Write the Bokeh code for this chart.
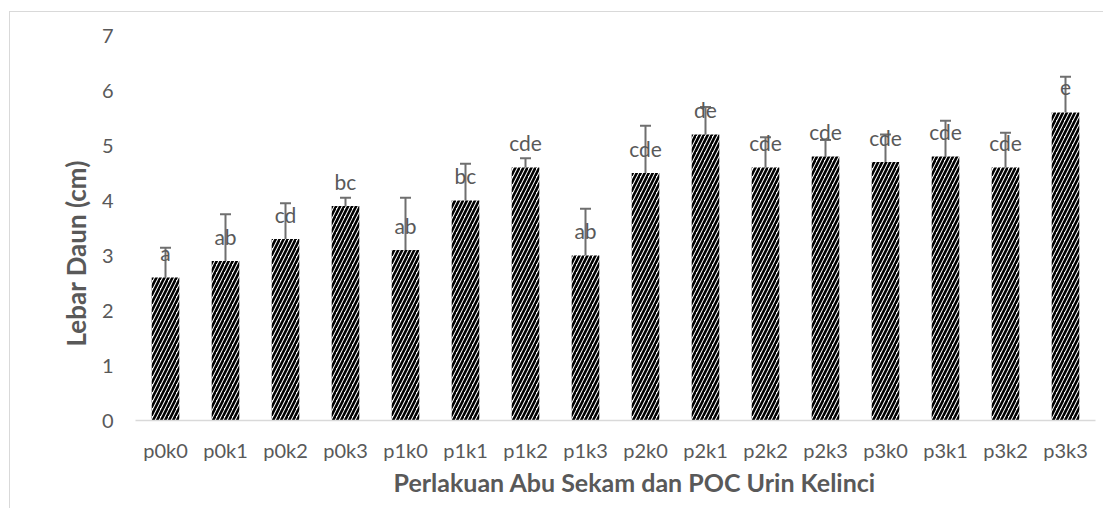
from bokeh.plotting import figure
from bokeh.models import ColumnDataSource, Whisker, TeeHead, FixedTicker, Range1d, Title, InlineStyleSheet
from bokeh.core.properties import value
from bokeh.embed import file_html
from bokeh.resources import INLINE

categories = ["p0k0", "p0k1", "p0k2", "p0k3", "p1k0", "p1k1", "p1k2", "p1k3",
              "p2k0", "p2k1", "p2k2", "p2k3", "p3k0", "p3k1", "p3k2", "p3k3"]
means = [2.6, 2.9, 3.3, 3.9, 3.1, 4.0, 4.6, 3.0, 4.5, 5.2, 4.6, 4.8, 4.7, 4.8, 4.6, 5.6]
errors = [0.54, 0.85, 0.65, 0.15, 0.95, 0.67, 0.17, 0.85, 0.86, 0.5, 0.55, 0.3, 0.5, 0.65, 0.63, 0.65]
letters = ["a", "ab", "cd", "bc", "ab", "bc", "cde", "ab", "cde", "de", "cde", "cde",
           "cde", "cde", "cde", "e"]
y_ticks = [0, 1, 2, 3, 4, 5, 6, 7]

FONT = "Lato"
GREY = "#595959"

src = ColumnDataSource(dict(
    cat=categories,
    mean=means,
    upper=[m + e for m, e in zip(means, errors)],
    lower=[m - e for m, e in zip(means, errors)],
    lab=letters,
))

p = figure(x_range=categories, y_range=Range1d(0, 7), width=1103, height=508,
           output_backend="svg", toolbar_location=None,
           min_border_left=135, min_border_right=8, min_border_top=35,
           min_border_bottom=88)
p.outline_line_color = None
p.stylesheets = [InlineStyleSheet(css=":host::before { content: ''; position: absolute; "
                                       "left: 9px; top: 11px; right: 0px; bottom: 0px; "
                                       "border-top: 1.5px solid #d9d9d9; border-left: 1.5px solid #d9d9d9; "
                                       "pointer-events: none; z-index: 5; }")]

p.vbar(x="cat", top="mean", bottom=0, width=0.46, source=src,
       fill_color="white", line_color=None,
       hatch_pattern="/", hatch_color="black", hatch_scale=8, hatch_weight=2.6)

w = Whisker(base="cat", upper="upper", lower="lower", source=src,
            line_color="#6f6f6f", line_width=2,
            upper_head=TeeHead(size=11, line_color="#6f6f6f", line_width=2),
            lower_head=TeeHead(size=11, line_color="#6f6f6f", line_width=2))
p.add_layout(w)

p.text(x="cat", y="mean", text="lab", source=src, y_offset=-25,
       text_align="center", text_baseline="middle",
       text_font=value(FONT), text_font_size="21px", text_color=GREY)

p.xgrid.grid_line_color = None
p.ygrid.grid_line_color = None

p.yaxis.ticker = FixedTicker(ticks=y_ticks)
p.yaxis.axis_line_color = None
p.yaxis.major_tick_line_color = None
p.yaxis.minor_tick_line_color = None
p.yaxis.major_tick_out = 0
p.yaxis.major_label_standoff = 22
p.yaxis.major_label_text_font = FONT
p.yaxis.major_label_text_font_size = "20px"
p.yaxis.major_label_text_color = GREY

p.xaxis.axis_line_color = "#d9d9d9"
p.xaxis.axis_line_width = 1.5
p.xaxis.major_tick_line_color = None
p.xaxis.minor_tick_line_color = None
p.xaxis.major_tick_out = 0
p.xaxis.major_label_standoff = 17
p.xaxis.major_label_text_font = FONT
p.xaxis.major_label_text_font_size = "20px"
p.xaxis.major_label_text_color = GREY

xt = Title(text="Perlakuan Abu Sekam dan POC Urin Kelinci", align="left", offset=258,
           text_font=FONT, text_font_style="bold", text_font_size="25px",
           text_color=GREY, standoff=0)
p.add_layout(xt, "below")

yt = Title(text="Lebar Daun (cm)", align="left", offset=74,
           text_font=FONT, text_font_style="bold", text_font_size="26px",
           text_color=GREY, standoff=14)
p.add_layout(yt, "left")

open("out.html", "w").write(file_html(p, INLINE))
